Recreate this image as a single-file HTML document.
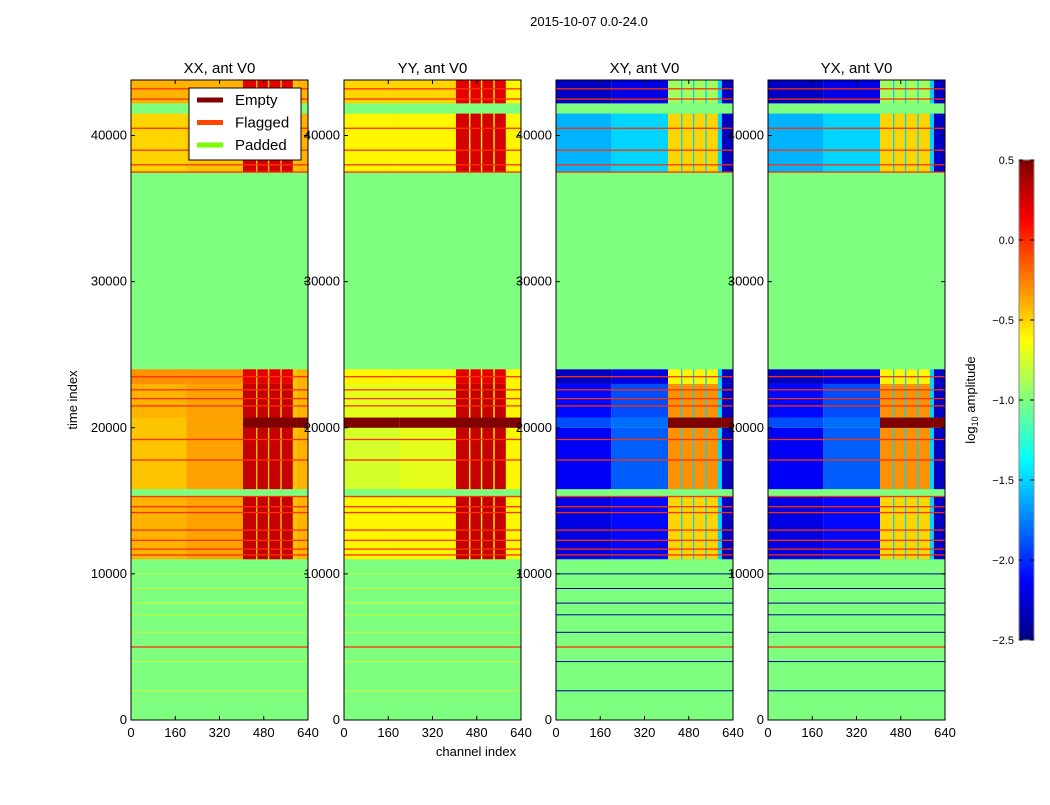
<!DOCTYPE html>
<html><head><meta charset="utf-8"><style>
body{margin:0;background:#fff;}
svg text{font-family:"Liberation Sans",sans-serif;}
</style></head><body>
<svg id="chart" width="1050" height="800" xmlns="http://www.w3.org/2000/svg">
<rect width="1050" height="800" fill="#fff"/>
</svg>
<script>
// ---- data ----
const panelTitles = ["XX, ant V0","YY, ant V0","XY, ant V0","YX, ant V0"];
const xTicks = [0,160,320,480,640];
const yTicks = [0,10000,20000,30000,40000];
const cbTicks = [0.5,0.0,-0.5,-1.0,-1.5,-2.0,-2.5];
const bandStarts = [0,11000,15300,15800,20000,20700,23000,24000,37500,41500,42200];
const bandEnds   = [11000,15300,15800,20000,20700,23000,24000,37500,41500,42200,43800];
const cellStarts = [405,457,500,545];
const cellEnds   = [452,495,540,585];
const lowAXX = [null,-0.4,null,-0.45,-0.45,-0.4,-0.3,null,-0.5,null,-0.4];
const lowBXX = [null,-0.35,null,-0.35,-0.35,-0.35,-0.3,null,-0.45,null,-0.4];
const lowAYY = [null,-0.6,null,-0.75,0.5,-0.7,-0.6,null,-0.6,null,-0.5];
const lowBYY = [null,-0.6,null,-0.7,0.5,-0.7,-0.6,null,-0.6,null,-0.5];
const lowAXY = [null,-2.2,null,-2.15,-1.9,-2.1,-2.3,null,-1.6,null,-2.3];
const lowBXY = [null,-2.1,null,-1.85,-1.8,-1.9,-2.2,null,-1.5,null,-2.2];
const lowAYX = [null,-2.2,null,-2.15,-1.9,-2.1,-2.3,null,-1.6,null,-2.3];
const lowBYX = [null,-2.1,null,-1.85,-1.8,-1.9,-2.2,null,-1.5,null,-2.2];
const highXX = [null,0.3,null,0.3,0.5,0.3,0.2,null,0.25,null,0.2];
const highYY = [null,0.3,null,0.3,0.5,0.3,0.2,null,0.25,null,0.2];
const highXY = [null,-0.5,null,-0.3,0.5,-0.3,-0.6,null,-0.5,null,-0.9];
const highYX = [null,-0.5,null,-0.3,0.5,-0.3,-0.6,null,-0.5,null,-0.9];
const gapVals = [-0.45,-0.6,-1.5,-1.5];
const edgeVals = [-0.4,-0.6,-2.3,-2.3];
const flagTimes = [5000,11300,11700,12300,13000,14200,14600,15300,17800,19200,21500,22000,22600,23500,37500,38000,39000,40500,42500,43200];
const darkTimes = [2000,4000,6000,7200,8000,9000,10000];
const lowA=[lowAXX,lowAYY,lowAXY,lowAYX], lowB=[lowBXX,lowBYY,lowBXY,lowBYX], highVals=[highXX,highYY,highXY,highYX];

// ---- scales ----
const panelX=[131,344,556,768], pw=177, plotTop=80, plotBot=720, yMax=43800;
const ys=v=>plotBot-(v/yMax)*(plotBot-plotTop);
const xs=(p,c)=>panelX[p]+c/640*pw;
function jet(v){let t=(v+2.5)/3;t=Math.max(0,Math.min(1,t));
 const f=x=>Math.round(255*Math.max(0,Math.min(1,1.5-Math.abs(4*t-x))));
 return `rgb(${f(3)},${f(2)},${f(1)})`;}
const svg=document.getElementById('chart'),NS="http://www.w3.org/2000/svg";
function el(tag,at,txt){const e=document.createElementNS(NS,tag);for(const k in at)e.setAttribute(k,at[k]);if(txt!=null)e.textContent=txt;svg.appendChild(e);return e;}
function cell(p,c0,c1,t0,t1,v){
 const r=el('rect',{x:xs(p,c0),y:ys(t1),width:xs(p,c1)-xs(p,c0),height:ys(t0)-ys(t1),fill:jet(v)});
 
 
}
const PAD="#7fff7f";
for(let p=0;p<4;p++){
 let r=el('rect',{x:panelX[p],y:plotTop,width:pw,height:plotBot-plotTop,fill:PAD});
 
 
 for(let b=0;b<bandStarts.length;b++){
  if(lowA[p][b]==null)continue;
  const t0=bandStarts[b],t1=bandEnds[b];
  cell(p,0,200,t0,t1,lowA[p][b]);
  cell(p,200,405,t0,t1,lowB[p][b]);
  cell(p,405,600,t0,t1,b===4?highVals[p][b]:gapVals[p]);
  for(let s=0;s<cellStarts.length;s++) cell(p,cellStarts[s],cellEnds[s],t0,t1,highVals[p][b]);
  cell(p,600,640,t0,t1,b===4?highVals[p][b]:edgeVals[p]);
 }
 for(const t of flagTimes){
  let l=el('rect',{x:panelX[p],y:ys(t)-0.6,width:pw,height:1.3,fill:"#ff3000"});
  
  
 }
 for(const t of darkTimes){
  let l=el('rect',{x:panelX[p],y:ys(t)-0.5,width:pw,height:1,fill:p<2?"#c8ff40":"#0000a0"});
  
  
 }
 let fr=el('rect',{x:panelX[p],y:plotTop,width:pw,height:plotBot-plotTop,fill:"none",stroke:"#000"});
 
 
 let tt=el('text',{x:panelX[p]+pw/2,y:73,'font-size':15,'text-anchor':'middle'},panelTitles[p]);
 
 
 for(const t of xTicks){const x=xs(p,t);
  el('line',{x1:x,x2:x,y1:plotBot,y2:plotBot-4,stroke:"#000"});
  el('line',{x1:x,x2:x,y1:plotTop,y2:plotTop+4,stroke:"#000"});
  let lb=el('text',{x:x,y:737,'font-size':13,'text-anchor':'middle'},String(t));
  
  }
 for(const t of yTicks){const y=ys(t);
  el('line',{x1:panelX[p],x2:panelX[p]+4,y1:y,y2:y,stroke:"#000"});
  el('line',{x1:panelX[p]+pw,x2:panelX[p]+pw-4,y1:y,y2:y,stroke:"#000"});
  let lb=el('text',{x:panelX[p]-4,y:y+4,'font-size':13,'text-anchor':'end'},String(t));
  
  }
}
let st=el('text',{x:589,y:26,'font-size':13,'text-anchor':'middle'},"2015-10-07 0.0-24.0");

let xl=el('text',{x:476,y:756,'font-size':13,'text-anchor':'middle'},"channel index");

let yl=el('text',{x:77,y:400,'font-size':13,'text-anchor':'middle',transform:'rotate(-90 77 400)'},"time index");

let lg=el('rect',{x:189,y:88,width:112,height:72,fill:"#fff",stroke:"#000"});

[["Empty","#800000"],["Flagged","#ff4500"],["Padded","#7cfc00"]].forEach((d,i)=>{
 const y=100+i*22.5;
 el('line',{x1:197,x2:223,y1:y,y2:y,stroke:d[1],'stroke-width':5});
 let t=el('text',{x:235,y:y+5,'font-size':15},d[0]);
 });
const cbY=v=>640-(v+2.5)/3*480;
for(let i=0;i<120;i++){const v=-2.5+3*i/120;
 el('rect',{x:1019,y:cbY(v+3/120),width:15,height:4.5,fill:jet(v+1.5/120)});}
let cb=el('rect',{x:1019,y:160,width:15,height:480,fill:"none",stroke:"#888"});

for(const t of cbTicks){const y=cbY(t);
 el('line',{x1:1030,x2:1034,y1:y,y2:y,stroke:"#000"});
 el('line',{x1:1019,x2:1023,y1:y,y2:y,stroke:"#000"});
 let lb=el('text',{x:1014,y:y+4,'font-size':11,'text-anchor':'end'},t.toFixed(1).replace('-','\u2212'));
 }
let cl=el('text',{x:975,y:400,'font-size':13,'text-anchor':'middle',transform:'rotate(-90 975 400)'});

cl.innerHTML='log<tspan font-size="9" dy="3">10</tspan><tspan dy="-3"> amplitude</tspan>';
</script>
</body></html>
